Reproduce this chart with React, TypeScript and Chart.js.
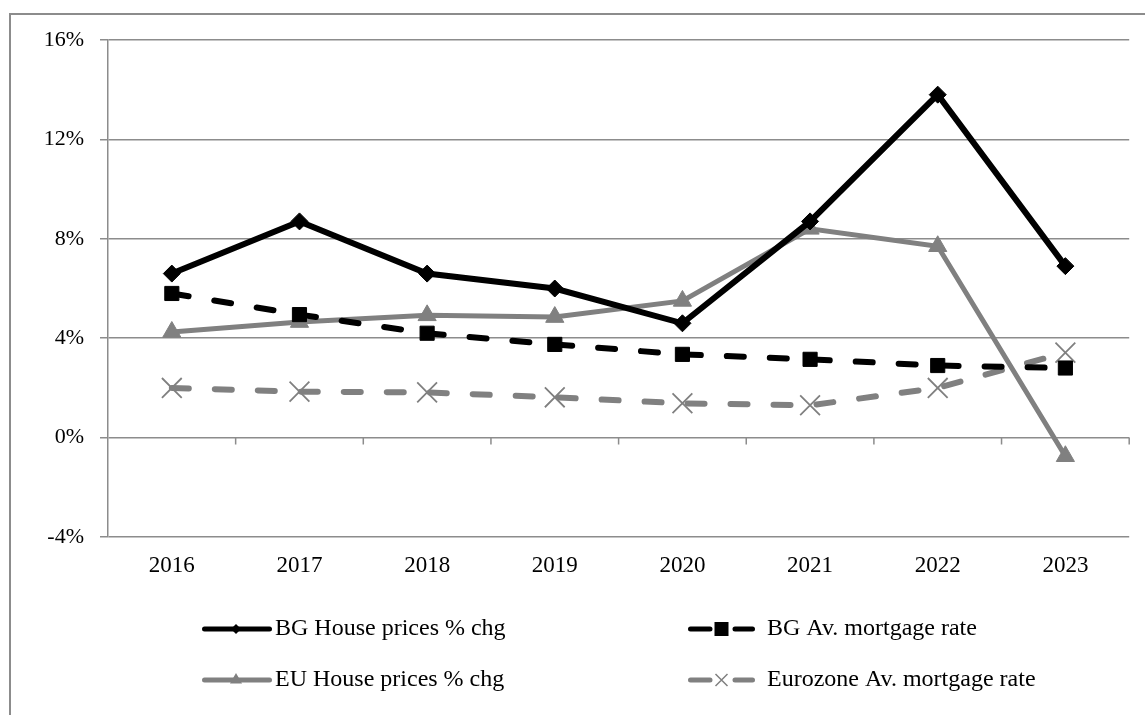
import React, { useEffect, useRef } from 'react';
import { Chart, registerables } from 'chart.js';

Chart.register(...registerables);

const years = ['2016', '2017', '2018', '2019', '2020', '2021', '2022', '2023'];
const bgHousePrices = [6.6, 8.7, 6.6, 6.0, 4.6, 8.7, 13.8, 6.9];
const bgMortgageRate = [5.8, 4.95, 4.2, 3.75, 3.35, 3.15, 2.9, 2.8];
const euHousePrices = [4.25, 4.65, 4.92, 4.85, 5.5, 8.4, 7.7, -0.75];
const ezMortgageRate = [2.0, 1.85, 1.82, 1.62, 1.38, 1.3, 2.0, 3.42];
const seriesLabels = [
  'BG House prices % chg',
  'BG Av. mortgage rate',
  'EU House prices % chg',
  'Eurozone Av. mortgage rate',
];
const yMin = -4;
const yMax = 16;
const yStep = 4;

const GRAY = '#808080';
const GRID = '#8c8c8c';
const FONT = "'Liberation Serif', 'Times New Roman', serif";

function drawMarker(ctx: CanvasRenderingContext2D, style: string, x: number, y: number, r: number, color: string) {
  ctx.save();
  ctx.fillStyle = color;
  ctx.strokeStyle = color;
  ctx.setLineDash([]);
  ctx.beginPath();
  if (style === 'rectRot') {
    ctx.moveTo(x, y - r);
    ctx.lineTo(x + r, y);
    ctx.lineTo(x, y + r);
    ctx.lineTo(x - r, y);
    ctx.closePath();
    ctx.fill();
  } else if (style === 'rect') {
    ctx.rect(x - r, y - r, 2 * r, 2 * r);
    ctx.fill();
  } else if (style === 'triangle') {
    ctx.moveTo(x, y - r);
    ctx.lineTo(x + r * 0.866, y + r * 0.5);
    ctx.lineTo(x - r * 0.866, y + r * 0.5);
    ctx.closePath();
    ctx.fill();
  } else if (style === 'crossRot') {
    ctx.lineWidth = 1.5;
    ctx.moveTo(x - r, y - r);
    ctx.lineTo(x + r, y + r);
    ctx.moveTo(x - r, y + r);
    ctx.lineTo(x + r, y - r);
    ctx.stroke();
  }
  ctx.restore();
}

const axisTicksPlugin = {
  id: 'zeroAxisTicks',
  beforeDatasetsDraw(chart: any) {
    const xs = chart.scales.x;
    const ys = chart.scales.y;
    const ctx = chart.ctx as CanvasRenderingContext2D;
    const y0 = ys.getPixelForValue(0);
    const half = (xs.getPixelForValue(1) - xs.getPixelForValue(0)) / 2;
    ctx.save();
    ctx.strokeStyle = GRID;
    ctx.lineWidth = 1.5;
    ctx.beginPath();
    for (let i = 1; i <= years.length; i++) {
      const px = xs.getPixelForValue(i - 1) + half;
      ctx.moveTo(px, y0);
      ctx.lineTo(px, y0 + 7);
    }
    ctx.stroke();
    ctx.restore();
  },
};

const legendMarkerSize: Record<string, number> = { rectRot: 5, rect: 7, triangle: 7, crossRot: 6 };

const legendPlugin = {
  id: 'customLegend',
  afterDraw(chart: any) {
    const ctx = chart.ctx as CanvasRenderingContext2D;
    const cols = [202, 688];
    const rows = [629, 680];
    chart.data.datasets.forEach((ds: any, i: number) => {
      const x = cols[i % 2];
      const y = rows[Math.floor(i / 2)];
      const dashed = ds.borderDash && ds.borderDash.length;
      const len = dashed ? 67 : 70;
      const mid = x + len / 2 + (dashed ? 0 : -1);
      ctx.save();
      ctx.strokeStyle = ds.borderColor;
      ctx.lineWidth = 5;
      ctx.lineCap = 'round';
      ctx.beginPath();
      if (dashed) {
        ctx.moveTo(x + 2.5, y);
        ctx.lineTo(x + 22, y);
        ctx.moveTo(x + 47, y);
        ctx.lineTo(x + len - 2.5, y);
      } else {
        ctx.moveTo(x + 2.5, y);
        ctx.lineTo(x + len - 2.5, y);
      }
      ctx.stroke();
      ctx.restore();
      drawMarker(ctx, ds.pointStyle, mid, y, legendMarkerSize[ds.pointStyle], ds.pointBackgroundColor);
      ctx.save();
      ctx.fillStyle = '#000';
      ctx.font = `24px ${FONT}`;
      ctx.textBaseline = 'middle';
      ctx.textAlign = 'left';
      ctx.fillText(ds.label, x + len + (dashed ? 12 : 3), y);
      ctx.restore();
    });
  },
};

export default function App() {
  const canvasRef = useRef<HTMLCanvasElement | null>(null);

  useEffect(() => {
    if (!canvasRef.current) return;
    const chart = new Chart(canvasRef.current, {
      type: 'line',
      data: {
        labels: years,
        datasets: [
          {
            label: seriesLabels[0],
            data: bgHousePrices,
            borderColor: '#000',
            backgroundColor: '#000',
            pointBackgroundColor: '#000',
            pointBorderColor: '#000',
            borderWidth: 6,
            pointStyle: 'rectRot',
            pointRadius: 8.5,
            pointBorderWidth: 1,
            tension: 0,
          },
          {
            label: seriesLabels[1],
            data: bgMortgageRate,
            borderColor: '#000',
            backgroundColor: '#000',
            pointBackgroundColor: '#000',
            pointBorderColor: '#000',
            borderWidth: 6,
            borderDash: [17, 26],
            borderCapStyle: 'round',
            pointStyle: 'rect',
            pointRadius: 10,
            pointBorderWidth: 1,
            tension: 0,
          },
          {
            label: seriesLabels[2],
            data: euHousePrices,
            borderColor: GRAY,
            backgroundColor: GRAY,
            pointBackgroundColor: GRAY,
            pointBorderColor: GRAY,
            borderWidth: 5,
            pointStyle: 'triangle',
            pointRadius: 10.5,
            pointBorderWidth: 1,
            tension: 0,
          },
          {
            label: seriesLabels[3],
            data: ezMortgageRate,
            borderColor: GRAY,
            backgroundColor: GRAY,
            pointBackgroundColor: GRAY,
            pointBorderColor: GRAY,
            borderWidth: 6,
            borderDash: [17, 26],
            borderCapStyle: 'round',
            pointStyle: 'crossRot',
            pointRadius: 14,
            pointBorderWidth: 1.8,
            tension: 0,
          },
        ],
      },
      options: {
        animation: false,
        responsive: false,
        maintainAspectRatio: false,
        devicePixelRatio: 1,
        layout: { padding: { left: 0, right: 13, top: 40, bottom: 138 } },
        plugins: {
          legend: { display: false },
          tooltip: { enabled: false },
          title: { display: false },
        },
        scales: {
          x: {
            type: 'category',
            offset: true,
            grid: { display: false, drawTicks: false },
            border: { display: false },
            ticks: {
              color: '#000',
              font: { family: FONT, size: 23 },
              padding: 15,
              maxRotation: 0,
            },
            afterFit: (s: any) => {
              s.height = 40;
            },
          },
          y: {
            min: yMin,
            max: yMax,
            grid: { color: GRID, lineWidth: 1.5, tickLength: 8, tickColor: GRID },
            border: { display: true, color: GRID, width: 1.5 },
            ticks: {
              stepSize: yStep,
              color: '#000',
              font: { family: FONT, size: 22 },
              padding: 16,
              callback: (v: any) => `${v}%`,
            },
            afterFit: (s: any) => {
              s.width = 108;
            },
          },
        },
      },
      plugins: [axisTicksPlugin, legendPlugin],
    } as any);
    return () => chart.destroy();
  }, []);

  return (
    <div style={{ position: 'fixed', left: 0, top: 0, width: 1145, height: 715, background: '#fff', overflow: 'hidden' }}>
      <div
        style={{
          position: 'absolute',
          left: 9,
          top: 13,
          width: 1300,
          height: 900,
          borderLeft: `2px solid ${GRID}`,
          borderTop: `2px solid ${GRID}`,
        }}
      />
      <canvas ref={canvasRef} width={1145} height={715} style={{ position: 'absolute', left: 0, top: 0, width: 1145, height: 715 }} />
    </div>
  );
}
